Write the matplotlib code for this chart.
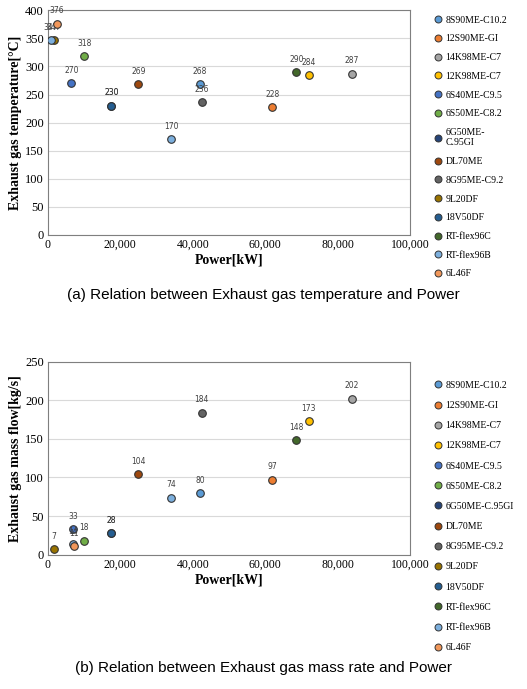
import matplotlib
matplotlib.use("Agg")
import matplotlib.pyplot as plt
from matplotlib.lines import Line2D

series = ["8S90ME-C10.2","12S90ME-GI","14K98ME-C7","12K98ME-C7","6S40ME-C9.5","6S50ME-C8.2",
          "6G50ME-C.95GI","DL70ME","8G95ME-C9.2","9L20DF","18V50DF","RT-flex96C","RT-flex96B","6L46F"]
colors = ["#5B9BD5","#ED7D31","#A5A5A5","#FFC000","#4472C4","#70AD47","#264478","#9E480E",
          "#636363","#997300","#255E91","#43682B","#7CAFDD","#F1975A"]
# power for temperature chart / temperature values
temp_power = [[42000],[62000],[84000],[72000],[6500],[10000],[17500],[25000],[42500],[1600],[17500],[68600],[900,34000],[2500]]
temp_vals  = [[268],[228],[287],[284],[270],[318],[230],[269],[236],[347],[230],[290],[347,170],[376]]
# power for mass flow chart / mass flow values
flow_power = [[42000],[62000],[84000],[72000],[7000],[10000],[17500],[25000],[42500],[1600],[17500],[68600],[6800,34000],[7300]]
flow_vals  = [[80],[97],[202],[173],[33],[18],[28],[104],[184],[7],[28],[148],[14,74],[11]]

fig = plt.figure(figsize=(5.27,6.89), dpi=100)
serif = "Liberation Serif"

def panel(rect, px, py, ymax, ylabel, caption, capy, legend_labels, legtop, lspace):
    ax = fig.add_axes(rect)
    for name, c, xs, ys in zip(series, colors, px, py):
        ax.scatter(xs, ys, s=30, color=c, edgecolor="#333333", linewidth=0.8, zorder=3)
        for x, y in zip(xs, ys):
            ax.annotate(str(y), (x, y), xytext=(0, 6), textcoords="offset points",
                        ha="center", va="bottom", fontsize=5.5, color="#404040")
    ax.set_xlim(0, 100000)
    ax.set_ylim(0, ymax)
    ax.set_xticks(range(0, 100001, 20000))
    ax.set_xticklabels([f"{v:,}" for v in range(0, 100001, 20000)], fontsize=8.5, fontfamily=serif)
    ax.set_yticks(range(0, ymax+1, 50))
    ax.set_yticklabels([str(v) for v in range(0, ymax+1, 50)], fontsize=9, fontfamily=serif)
    ax.yaxis.grid(True, color="#D9D9D9", linewidth=0.8)
    ax.set_axisbelow(True)
    ax.tick_params(length=0, pad=3)
    for s in ax.spines.values():
        s.set_color("#7F7F7F")
    ax.set_xlabel("Power[kW]", fontsize=10, fontweight="bold", fontfamily=serif, labelpad=2)
    ax.set_ylabel(ylabel, fontsize=10, fontweight="bold", fontfamily=serif, labelpad=2)
    handles = [Line2D([], [], marker="o", linestyle="", markersize=5, markerfacecolor=c,
                      markeredgecolor="#333333", markeredgewidth=0.7) for c in colors]
    fig.legend(handles, legend_labels, loc="upper left",
               bbox_to_anchor=(0.805, legtop), frameon=False,
               prop={"family": serif, "size": 7}, labelspacing=lspace, handletextpad=0.3,
               handlelength=1.0)
    fig.text(0.5, capy, caption, ha="center", va="center", fontsize=11, fontfamily="Liberation Sans")
    return ax

labels_a = list(series); labels_a[6] = "6G50ME-\nC.95GI"
panel([0.091, 0.659, 0.687, 0.326], temp_power, temp_vals, 400,
      "Exhaust gas temperature[°C]",
      "(a) Relation between Exhaust gas temperature and Power", 0.572, labels_a, 0.99, 1.0)
panel([0.091, 0.195, 0.687, 0.28], flow_power, flow_vals, 250,
      "Exhaust gas mass flow[kg/s]",
      "(b) Relation between Exhaust gas mass rate and Power", 0.03, series, 0.46, 1.15)

fig.savefig("out.png", dpi=100)
